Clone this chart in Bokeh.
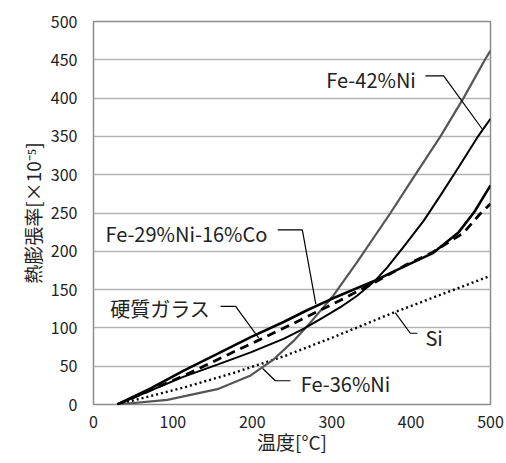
from bokeh.plotting import figure
from bokeh.models import Range1d, Label, FixedTicker
from bokeh.embed import file_html
from bokeh.resources import INLINE

# ---- data ----
t_fe36 = [30, 93, 156, 198, 227, 252, 269, 302, 332, 374, 399, 437, 466, 493, 500]
e_fe36 = [0, 6, 20, 38, 59, 83, 102, 142, 186, 250, 290, 350, 400, 450, 462]

t_fe42 = [30, 113, 156, 198, 240, 265, 290, 311, 332, 355, 370, 390, 416, 437, 460, 483, 500]
e_fe42 = [0, 36, 52, 68, 86, 99, 114, 127, 142, 162, 179, 205, 240, 273, 310, 348, 373]

t_co = [30, 72, 113, 156, 198, 240, 269, 298, 355, 387, 428, 460, 480, 500]
e_co = [0, 21, 44, 66, 88, 108, 123, 137, 162, 178, 198, 225, 252, 286]

t_glass = [30, 97, 135, 173, 210, 252, 311, 355, 395, 426, 466, 487, 500]
e_glass = [0, 30, 48, 67, 85, 106, 136, 160, 183, 198, 224, 249, 262]

t_si = [30, 113, 176, 240, 300, 378, 500]
e_si = [0, 22, 41, 63, 87, 120, 168]

x_ticks = [0, 100, 200, 300, 400, 500]
y_ticks = [0, 50, 100, 150, 200, 250, 300, 350, 400, 450, 500]

labels = ["Fe-42%Ni", "Fe-29%Ni-16%Co", "硬質ガラス", "Fe-36%Ni", "Si"]
label_x = [406, 219, 147, 261, 418]
label_y = [424, 223, 125, 27, 87]
label_align = ["right", "right", "right", "left", "left"]
leader_x = [[418, 441, 490], [232, 263, 280], [160, 179, 208], [248, 229, 213], [408, 399, 380]]
leader_y = [[429, 429, 359], [228, 228, 131], [128, 128, 87], [31, 31, 47], [93, 93, 120]]

JP = "Noto Sans CJK JP"

p = figure(width=506, height=463, output_backend="svg", toolbar_location=None,
           x_range=Range1d(0, 500), y_range=Range1d(0, 500),
           min_border_left=93, min_border_right=16, min_border_top=21, min_border_bottom=59)

p.outline_line_color = "#8c8c8c"
p.outline_line_width = 1.5
p.background_fill_color = "white"
p.xgrid.grid_line_color = None
p.ygrid.grid_line_color = "#b4b4b4"
p.ygrid.grid_line_width = 1.3

p.xaxis.ticker = FixedTicker(ticks=x_ticks)
p.yaxis.ticker = FixedTicker(ticks=y_ticks)
for ax in (p.xaxis[0], p.yaxis[0]):
    ax.axis_line_color = None
    ax.major_tick_line_color = None
    ax.minor_tick_line_color = None
    ax.major_tick_out = 0
    ax.major_tick_in = 0
    ax.major_label_text_font = JP
    ax.major_label_text_font_size = "16px"
    ax.major_label_text_color = "#222222"
    ax.axis_label_text_font = JP
    ax.axis_label_text_font_size = "19px"
    ax.axis_label_text_font_style = "normal"
    ax.axis_label_text_color = "#222222"

p.xaxis.axis_label = "温度[°C]"
p.yaxis.axis_label = "熱膨張率[×10⁻⁵]"
p.xaxis.major_label_standoff = 11
p.xaxis.axis_label_standoff = -3
p.yaxis.major_label_standoff = 16
p.yaxis.axis_label_standoff = 2

# curves
p.line(t_si, e_si, line_color="black", line_width=2.4, line_dash="2 3")
p.line(t_fe36, e_fe36, line_color="#555555", line_width=2.2)
p.line(t_fe42, e_fe42, line_color="black", line_width=2.0)
p.line(t_co, e_co, line_color="black", line_width=2.6)
p.line(t_glass, e_glass, line_color="black", line_width=2.8, line_dash="9 6")

# labels and leader lines
for txt, lx, ly, al, xs, ys in zip(labels, label_x, label_y, label_align, leader_x, leader_y):
    p.line(xs, ys, line_color="black", line_width=1.2)
    p.add_layout(Label(x=lx, y=ly, text=txt, text_align=al, text_baseline="middle",
                       text_font=JP, text_font_size="20px", text_color="#222222"))

open("out.html", "w").write(file_html(p, INLINE))
